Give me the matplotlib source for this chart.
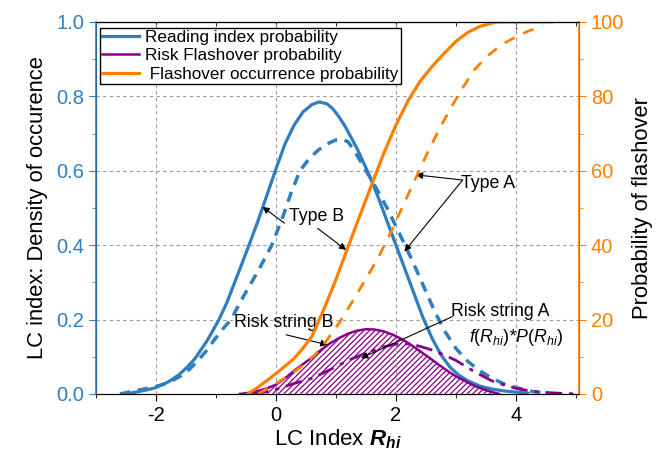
import matplotlib
matplotlib.use("Agg")
import matplotlib.pyplot as plt

plt.rcParams['font.family'] = ['Liberation Sans', 'DejaVu Sans']
plt.rcParams['hatch.linewidth'] = 0.9
plt.rcParams['axes.unicode_minus'] = False
plt.rcParams['mathtext.fontset'] = 'custom'
plt.rcParams['mathtext.rm'] = 'Liberation Sans'
plt.rcParams['mathtext.it'] = 'Liberation Sans:italic'
plt.rcParams['mathtext.bf'] = 'Liberation Sans:bold:italic'

# colors
blue = '#2f7ec0'
orange = '#ff8000'
purple = '#880088'

# reading index density, type B (solid)
xb = [-2.5, -2.3, -2.15, -2.0, -1.8, -1.62, -1.48, -1.35, -1.14, -0.95, -0.82, -0.7,
      -0.58, -0.45, -0.3, -0.15, 0.0, 0.15, 0.3, 0.45, 0.6, 0.72, 0.85, 0.95, 1.05,
      1.15, 1.25, 1.35, 1.45, 1.55, 1.7, 1.85, 2.0, 2.15, 2.3, 2.45, 2.6, 2.75, 2.9,
      3.05, 3.2, 3.4, 3.6, 3.8, 4.0, 4.2]
yb = [0.0, 0.006, 0.011, 0.017, 0.032, 0.051, 0.072, 0.095, 0.145, 0.2, 0.245, 0.295,
      0.345, 0.40, 0.465, 0.535, 0.605, 0.672, 0.722, 0.758, 0.778, 0.785, 0.78, 0.766,
      0.745, 0.72, 0.69, 0.66, 0.625, 0.59, 0.53, 0.465, 0.40, 0.335, 0.27, 0.205, 0.15,
      0.105, 0.072, 0.05, 0.035, 0.021, 0.013, 0.008, 0.005, 0.002]

# reading index density, type A (dashed)
xa = [-2.6, -2.3, -2.0, -1.8, -1.6, -1.45, -1.3, -1.15, -1.03, -0.9, -0.75, -0.55, -0.3,
      -0.07, 0.1, 0.25, 0.4, 0.55, 0.7, 0.85, 1.0, 1.1, 1.2, 1.3, 1.4, 1.5, 1.63, 1.75,
      1.85, 2.0, 2.18, 2.35, 2.5, 2.65, 2.82, 3.0, 3.2, 3.4, 3.6, 3.8, 4.0, 4.15, 4.3,
      4.45, 4.6]
ya = [0.0, 0.01, 0.02, 0.03, 0.047, 0.065, 0.09, 0.118, 0.145, 0.172, 0.2, 0.26, 0.33,
      0.40, 0.47, 0.54, 0.60, 0.632, 0.655, 0.672, 0.683, 0.685, 0.678, 0.655, 0.628,
      0.60, 0.565, 0.53, 0.50, 0.45, 0.39, 0.33, 0.275, 0.22, 0.167, 0.122, 0.087, 0.062,
      0.042, 0.027, 0.017, 0.011, 0.006, 0.003, 0.0]

# flashover probability (%), type B solid / type A dashed
xpb = [-0.47, -0.3, -0.1, 0.1, 0.3, 0.45, 0.6, 0.8, 1.0, 1.2, 1.4, 1.6, 1.8, 2.0, 2.2,
       2.4, 2.6, 2.8, 3.0, 3.2, 3.4, 3.6, 3.7, 4.6]
ppb = [0.0, 1.8, 4.2, 6.8, 9.5, 12.3, 15.5, 22.8, 30.8, 39.5, 48.0, 56.5, 64.8, 72.3,
       78.8, 84.0, 88.0, 91.5, 94.8, 97.2, 98.8, 99.7, 100.0, 100.0]
xpa = [-0.3, -0.08, 0.2, 0.44, 0.65, 0.85, 1.05, 1.28, 1.5, 1.7, 1.9, 2.1, 2.3, 2.5, 2.7,
       2.9, 3.1, 3.3, 3.5, 3.75, 4.0, 4.2, 4.45]
ppa = [0.0, 2.0, 4.8, 7.5, 10.5, 14.5, 19.0, 25.0, 31.0, 36.5, 43.0, 50.0, 57.0, 64.0,
       70.5, 76.5, 82.0, 87.0, 90.5, 93.8, 96.0, 97.5, 99.0]

# risk = f(R)*P(R), string B solid / string A dash-dot
xrb = [-0.6, -0.45, -0.3, -0.15, 0.0, 0.15, 0.3, 0.45, 0.6, 0.75, 0.9, 1.05, 1.2, 1.35,
       1.5, 1.65, 1.8, 1.95, 2.1, 2.25, 2.4, 2.55, 2.7, 2.85, 3.0, 3.15, 3.3, 3.45, 3.6,
       3.72]
rb = [0.0, 0.003, 0.008, 0.015, 0.025, 0.042, 0.062, 0.08, 0.098, 0.118, 0.136, 0.15,
      0.162, 0.17, 0.174, 0.173, 0.168, 0.159, 0.147, 0.132, 0.115, 0.098, 0.08, 0.063,
      0.047, 0.035, 0.022, 0.013, 0.005, 0.0]
xra = [-0.4, -0.2, 0.0, 0.3, 0.6, 0.9, 1.2, 1.5, 1.8, 2.0, 2.2, 2.4, 2.6, 2.8, 3.0, 3.2,
       3.4, 3.6, 3.8, 4.0, 4.2, 4.4, 4.7, 5.0]
ra = [0.0, 0.005, 0.012, 0.028, 0.042, 0.065, 0.09, 0.11, 0.127, 0.134, 0.135, 0.128,
      0.118, 0.105, 0.09, 0.07, 0.052, 0.035, 0.024, 0.015, 0.009, 0.005, 0.002, 0.0]

fig = plt.figure(figsize=(6.62, 4.57), dpi=100)
ax = fig.add_axes([0.145, 0.138, 0.7296, 0.814])
ax2 = ax.twinx()

ax.fill_between(xrb, 0, rb, facecolor='none', edgecolor=purple, hatch='//////', linewidth=0)
lb, = ax.plot(xb, yb, color=blue, lw=2.3)
ax.plot(xa, ya, color=blue, lw=2.5, ls=(0, (3, 2.2)))
lr, = ax.plot(xrb, rb, color=purple, lw=1.8)
ax.plot(xra, ra, color=purple, lw=2.0, ls=(0, (6, 2.5, 1.5, 2.5)))
lo, = ax2.plot(xpb, ppb, color=orange, lw=2.3)
ax2.plot(xpa, ppa, color=orange, lw=2.0, ls=(0, (4, 3.5)))

ax.set_xlim(-3, 5.05)
ax.set_ylim(0, 1.0)
ax2.set_ylim(0, 100)
ax.set_xticks([-2, 0, 2, 4])
ax.set_xticks([-3, -1, 1, 3, 5], minor=True)
ax.set_yticks([0, 0.2, 0.4, 0.6, 0.8, 1.0])
ax.set_yticks([0.1, 0.3, 0.5, 0.7, 0.9], minor=True)
ax2.set_yticks([0, 20, 40, 60, 80, 100])
ax2.set_yticks([10, 30, 50, 70, 90], minor=True)
ax.set_yticklabels(['0.0', '0.2', '0.4', '0.6', '0.8', '1.0'])
ax.grid(True, which='major', color='#9a9a9a', ls=(0, (3, 3)), lw=0.8)

ax.tick_params(axis='x', which='both', direction='out', top=False, labelsize=14.5)
ax.tick_params(axis='x', which='major', length=5)
ax.tick_params(axis='x', which='minor', length=3)
ax.tick_params(axis='y', which='both', colors=blue, labelsize=14.5, direction='out')
ax.tick_params(axis='y', which='major', length=5)
ax.tick_params(axis='y', which='minor', length=3)
ax2.tick_params(axis='y', which='both', colors=orange, labelsize=14.5, direction='out')
ax2.tick_params(axis='y', which='major', length=5)
ax2.tick_params(axis='y', which='minor', length=3)

# top axis: inward ticks, no labels
top = ax.secondary_xaxis('top')
top.set_xticks([-2, 0, 2, 4])
top.set_xticks([-3, -1, 1, 3, 5], minor=True)
top.tick_params(which='both', direction='in', labeltop=False)
top.tick_params(which='major', length=5)
top.tick_params(which='minor', length=3)

ax2.spines['left'].set_color(blue)
ax2.spines['right'].set_color(orange)
ax2.spines['left'].set_linewidth(1.2)
ax2.spines['right'].set_linewidth(1.2)

ax.set_xlabel(r'LC Index $\mathbf{R_{hi}}$', fontsize=16, labelpad=2)
ax.set_ylabel('LC index: Density of occurence', fontsize=15.8, labelpad=6)
ax2.set_ylabel('Probability of flashover', fontsize=15.8, labelpad=6)

ax.legend([lb, lr, lo], ['Reading index probability', 'Risk Flashover probability',
                         ' Flashover occurrence probability'],
          loc='upper left', bbox_to_anchor=(0.008, 0.984), fontsize=12.3, frameon=True,
          fancybox=False, edgecolor='black', framealpha=1, borderaxespad=0,
          handlelength=2.2, labelspacing=0.2, borderpad=0.12, handletextpad=0.35)
ax.get_legend().get_frame().set_linewidth(1.0)

arr = dict(arrowstyle='-|>', color='black', lw=0.8, mutation_scale=10, shrinkA=0, shrinkB=0)
fs = 12.8
ax.text(0.68, 0.477, 'Type B', fontsize=fs, ha='center', va='center')
ax.annotate('', xy=(-0.225, 0.503), xytext=(0.14, 0.459), arrowprops=arr)
ax.annotate('', xy=(1.17, 0.387), xytext=(0.695, 0.445), arrowprops=arr)
ax.text(3.54, 0.567, 'Type A', fontsize=fs, ha='center', va='center')
ax.annotate('', xy=(2.33, 0.589), xytext=(3.11, 0.575), arrowprops=arr)
ax.annotate('', xy=(2.14, 0.383), xytext=(3.11, 0.575), arrowprops=arr)
ax.text(-0.695, 0.191, 'Risk string B', fontsize=fs, ha='left', va='center')
ax.annotate('', xy=(0.86, 0.132), xytext=(0.167, 0.159), arrowprops=arr)
ax.text(2.92, 0.221, 'Risk string A', fontsize=fs, ha='left', va='center')
ax.annotate('', xy=(1.417, 0.096), xytext=(2.94, 0.208), arrowprops=arr)
ax.text(3.22, 0.152, r'$\mathit{f(R_{hi})}$*$\mathit{P(R_{hi})}$', fontsize=fs,
        ha='left', va='center', style='italic')

fig.savefig('out.png', dpi=100)
